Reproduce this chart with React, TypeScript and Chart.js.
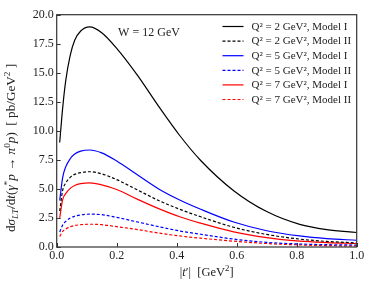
import React, { useEffect, useRef } from "react";
import { Chart, registerables } from "chart.js";

Chart.register(...registerables);

const tPrime = [0.01, 0.02, 0.03, 0.045, 0.06, 0.08, 0.11, 0.15, 0.2, 0.27, 0.34, 0.41, 0.48, 0.59, 0.7, 0.81, 0.9, 1.0];

const q2_2_modelI = [9.0, 12.0, 14.3, 16.5, 17.8, 18.6, 18.95, 18.45, 17.1, 14.75, 12.1, 9.6, 7.45, 4.85, 3.05, 1.95, 1.5, 1.25];
const q2_2_modelII = [3.1, 4.9, 5.5, 6.0, 6.25, 6.4, 6.48, 6.3, 5.8, 4.9, 4.0, 3.25, 2.6, 1.7, 1.08, 0.68, 0.48, 0.35];
const q2_5_modelI = [4.0, 6.0, 6.9, 7.6, 8.0, 8.25, 8.35, 8.1, 7.4, 6.2, 5.0, 4.05, 3.25, 2.15, 1.4, 0.95, 0.72, 0.58];
const q2_5_modelII = [1.3, 1.9, 2.2, 2.5, 2.65, 2.76, 2.83, 2.78, 2.55, 2.15, 1.75, 1.38, 1.1, 0.68, 0.4, 0.26, 0.2, 0.17];
const q2_7_modelI = [2.5, 4.1, 4.6, 5.05, 5.3, 5.45, 5.52, 5.35, 4.95, 4.1, 3.3, 2.6, 2.05, 1.3, 0.8, 0.5, 0.38, 0.3];
const q2_7_modelII = [0.9, 1.35, 1.55, 1.75, 1.85, 1.92, 1.96, 1.92, 1.75, 1.5, 1.2, 0.95, 0.76, 0.5, 0.3, 0.18, 0.12, 0.09];

const seriesLabels = [
  "Q² = 2 GeV², Model I",
  "Q² = 2 GeV², Model II",
  "Q² = 5 GeV², Model I",
  "Q² = 5 GeV², Model II",
  "Q² = 7 GeV², Model I",
  "Q² = 7 GeV², Model II",
];
const seriesValues = [q2_2_modelI, q2_2_modelII, q2_5_modelI, q2_5_modelII, q2_7_modelI, q2_7_modelII];
const seriesColors = ["#000000", "#000000", "#0000ff", "#0000ff", "#ff0000", "#ff0000"];
const seriesDashed = [false, true, false, true, false, true];

const xTicks = [0, 0.2, 0.4, 0.6, 0.8, 1.0];
const yTicks = [0, 2.5, 5, 7.5, 10, 12.5, 15, 17.5, 20];
const annotationText = "W = 12 GeV";

const FONT = "'Liberation Serif', 'DejaVu Serif', serif";
const TEXT_COLOR = "#222";

type Seg = { t: string; sup?: boolean; sub?: boolean; it?: boolean };

function segFont(s: Seg, size: number) {
  const sz = s.sup || s.sub ? size * 0.7 : size;
  return `${s.it ? "italic " : ""}${sz}px ${FONT}`;
}

function drawRich(ctx: CanvasRenderingContext2D, segs: Seg[], x: number, y: number, size: number) {
  let total = 0;
  for (const s of segs) {
    ctx.font = segFont(s, size);
    total += ctx.measureText(s.t).width;
  }
  let cx = x - total / 2;
  ctx.textAlign = "left";
  ctx.textBaseline = "alphabetic";
  for (const s of segs) {
    ctx.font = segFont(s, size);
    const dy = s.sup ? -size * 0.38 : s.sub ? size * 0.2 : 0;
    ctx.fillText(s.t, cx, y + dy);
    cx += ctx.measureText(s.t).width;
  }
}

const yTitle: Seg[] = [
  { t: "d" },
  { t: "σ", it: true },
  { t: "LT", sub: true, it: true },
  { t: "/d" },
  { t: "t", it: true },
  { t: "(" },
  { t: "γ", it: true },
  { t: "*", sup: true },
  { t: "p", it: true },
  { t: " → " },
  { t: "π", it: true },
  { t: "0", sup: true },
  { t: "p", it: true },
  { t: ")  [ pb/GeV" },
  { t: "2", sup: true },
  { t: " ]" },
];

const xTitle: Seg[] = [
  { t: "|" },
  { t: "t", it: true },
  { t: "′|  [GeV" },
  { t: "2", sup: true },
  { t: "]" },
];

const decorPlugin = {
  id: "decor",
  afterDatasetsDraw(chart: any) {
    const ctx: CanvasRenderingContext2D = chart.ctx;
    const a = chart.chartArea;
    const xs = chart.scales.x;
    const ys = chart.scales.y;
    ctx.save();
    ctx.strokeStyle = "#333";
    ctx.lineWidth = 1.2;
    ctx.strokeRect(a.left, a.top, a.right - a.left, a.bottom - a.top);
    ctx.lineWidth = 1;
    ctx.beginPath();
    for (const v of xTicks) {
      const px = Math.round(xs.getPixelForValue(v)) + 0.5;
      ctx.moveTo(px, a.bottom);
      ctx.lineTo(px, a.bottom - 4);
    }
    for (const v of yTicks) {
      const py = Math.round(ys.getPixelForValue(v)) + 0.5;
      ctx.moveTo(a.left, py);
      ctx.lineTo(a.left + 4, py);
    }
    ctx.stroke();

    ctx.fillStyle = TEXT_COLOR;
    ctx.font = `12px ${FONT}`;
    ctx.textAlign = "center";
    ctx.textBaseline = "middle";
    ctx.fillText(annotationText, 149, 33);

    const lx0 = 222.5;
    const lx1 = 243.5;
    const tx = 251.5;
    const y0 = 26.5;
    const dy = 14.6;
    chart.data.datasets.forEach((ds: any, i: number) => {
      const y = y0 + i * dy;
      ctx.strokeStyle = ds.borderColor;
      ctx.lineWidth = 1.2;
      ctx.setLineDash(ds.borderDash || []);
      ctx.beginPath();
      ctx.moveTo(lx0, y);
      ctx.lineTo(lx1, y);
      ctx.stroke();
      ctx.setLineDash([]);
      ctx.fillStyle = TEXT_COLOR;
      ctx.font = `11px ${FONT}`;
      ctx.textAlign = "left";
      ctx.textBaseline = "middle";
      ctx.fillText(ds.label, tx, y + 0.5);
    });

    ctx.fillStyle = TEXT_COLOR;
    drawRich(ctx, xTitle, (a.left + a.right) / 2, 276, 12.5);
    ctx.save();
    ctx.translate(15, 148);
    ctx.rotate(-Math.PI / 2);
    drawRich(ctx, yTitle, 0, 0, 13.2);
    ctx.restore();
    ctx.restore();
  },
};

export default function App() {
  const ref = useRef<HTMLCanvasElement | null>(null);
  useEffect(() => {
    if (!ref.current) return;
    const datasets = seriesValues.map((vals, i) => ({
      label: seriesLabels[i],
      data: tPrime.map((t, j) => ({ x: t, y: vals[j] })),
      borderColor: seriesColors[i],
      backgroundColor: seriesColors[i],
      borderWidth: 1.2,
      borderDash: seriesDashed[i] ? [3, 2] : [],
      pointRadius: 0,
      fill: false,
      cubicInterpolationMode: "monotone" as const,
    }));
    const chart = new Chart(ref.current, {
      type: "line",
      data: { datasets },
      options: {
        animation: false,
        responsive: true,
        maintainAspectRatio: false,
        layout: { padding: { left: 0, right: 19.3, top: 14.7, bottom: 0 } },
        plugins: { legend: { display: false }, tooltip: { enabled: false } },
        scales: {
          x: {
            type: "linear",
            min: 0,
            max: 1,
            afterFit: (s: any) => {
              s.height = 35;
            },
            afterBuildTicks: (s: any) => {
              s.ticks = xTicks.map((v) => ({ value: v }));
            },
            grid: { display: false, drawTicks: false },
            border: { display: false },
            ticks: {
              color: TEXT_COLOR,
              font: { family: FONT, size: 12 },
              padding: 2,
              maxRotation: 0,
              callback: (v: any) => Number(v).toFixed(1),
            },
          },
          y: {
            type: "linear",
            min: 0,
            max: 20,
            afterFit: (s: any) => {
              s.width = 56.7;
            },
            afterBuildTicks: (s: any) => {
              s.ticks = yTicks.map((v) => ({ value: v }));
            },
            grid: { display: false, drawTicks: false },
            border: { display: false },
            ticks: {
              color: TEXT_COLOR,
              font: { family: FONT, size: 12 },
              padding: 3,
              callback: (v: any) => Number(v).toFixed(1),
            },
          },
        },
      },
      plugins: [decorPlugin],
    });
    return () => chart.destroy();
  }, []);
  return (
    <div style={{ position: "fixed", left: 0, top: 0, width: 376, height: 282 }}>
      <canvas ref={ref} />
    </div>
  );
}
